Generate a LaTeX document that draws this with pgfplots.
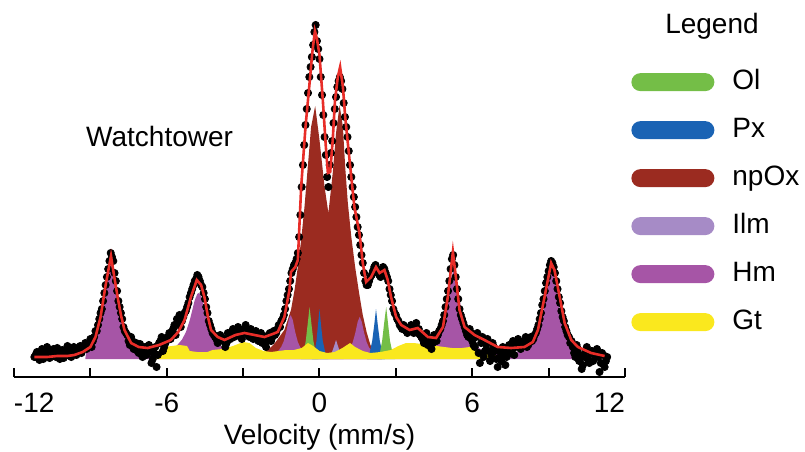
\documentclass[border=0pt]{standalone}
\usepackage{fontspec}
\setmainfont{Liberation Sans}
\usepackage{pgfplots}
\pgfplotsset{compat=1.18}
\definecolor{olc}{RGB}{116,190,71}
\definecolor{pxc}{RGB}{26,99,180}
\definecolor{npc}{RGB}{155,43,32}
\definecolor{ilc}{RGB}{166,139,198}
\definecolor{hmc}{RGB}{166,85,166}
\definecolor{gtc}{RGB}{250,232,30}
\definecolor{fitc}{RGB}{232,45,40}
\newcommand{\fs}{\fontsize{14}{16.8}\selectfont}
\pgfplotsset{swatch/.style={legend image code/.code={\fill[##1,draw=none,rounded corners=4.5pt] (0pt,-4.5pt) rectangle (41.5pt,4.5pt);}}}
\begin{document}
\begin{tikzpicture}
\begin{axis}[name=ax, x=12.729pt, y=0.5pt, xmin=-12, xmax=12, ymin=0, ymax=367,
  axis x line*=bottom, axis y line=none, clip=false, clip marker paths=true,
  x axis line style={-, line width=1pt},
  xtick={-12,-6,0,6,12},
  xticklabels={{\makebox[0pt][l]{-12}},{-6},{0},{6},{\makebox[0pt][r]{12}}},
  minor xtick={-9,-3,3,9},
  xtick align=inside, major tick length=4.5pt, minor tick length=4.5pt,
  tick style={black, line width=1pt}, minor tick style={black, line width=1pt},
  xticklabel style={font=\fs, yshift=-4.5pt},
  xlabel={Velocity (mm/s)}, xlabel style={font=\fs, yshift=1pt},
  legend cell align=left,
  legend style={draw=none, fill=none, at={(1.0098,0.84)}, anchor=north west, font=\fs,
    row sep=11pt, column sep=9pt, inner sep=0pt,
    nodes={inner sep=0pt, text height=10pt, text depth=3pt}},
]
% npOx
\addplot[fill=npc, draw=none, forget plot] coordinates {
(-2.25,18) (-2.1,26) (-1.9,30) (-1.75,34) (-1.55,41) (-1.38,47) (-1.25,57) (-1.12,67)
(-0.98,87) (-0.85,110) (-0.72,137) (-0.59,170) (-0.46,210) (-0.33,250) (-0.17,271)
(0.0,237) (0.2,190) (0.35,164) (0.52,204) (0.65,244) (0.79,272) (0.92,250) (1.01,210)
(1.11,175) (1.25,140) (1.40,110) (1.55,85) (1.7,62) (1.85,45) (2.0,32) (2.2,24) (2.45,18)
} -- cycle;
% Hm
\addplot[fill=hmc, draw=none, forget plot] coordinates {
(-9.2,18) (-9.15,28) (-9.0,31) (-8.9,34) (-8.8,39) (-8.7,45) (-8.6,55) (-8.5,68) (-8.4,86)
(-8.3,105) (-8.19,115) (-8.1,108) (-8.0,90) (-7.9,71) (-7.8,57) (-7.7,47) (-7.6,40) (-7.5,35)
(-7.3,30) (-7.0,26.5) (-6.7,25) (-6.4,24.6) (-6.1,25.6) (-5.8,28) (-5.6,31.5) (-5.4,37.5)
(-5.25,44.7) (-5.1,56.4) (-5.0,66.5) (-4.9,76.9) (-4.8,83) (-4.75,84) (-4.7,83) (-4.6,76.9)
(-4.5,66.5) (-4.4,56.4) (-4.25,44.7) (-4.1,37.5) (-3.9,31.5) (-3.7,28) (-3.4,25) (-3.0,22)
(-2.5,20.8) (-2.0,21.7) (-1.8,23.3) (-1.6,26.7) (-1.5,30.3) (-1.4,36) (-1.3,46) (-1.2,58)
(-1.13,62) (-1.05,57) (-0.95,44.5) (-0.85,35) (-0.75,29.5) (-0.6,25) (-0.4,22) (-0.1,20.6)
(0.2,20.2) (0.5,20.5) (0.8,21.6) (1.0,23.6) (1.2,28.9) (1.3,34.3) (1.4,43.4) (1.5,55.2)
(1.58,60.2) (1.66,55.2) (1.75,44.5) (1.85,35) (1.95,29.3) (2.1,24.6) (2.4,22.1) (2.8,21)
(3.2,21.4) (3.6,22.3) (4.0,24.6) (4.3,28.3) (4.5,33.4) (4.7,42.7) (4.85,55) (4.95,67.3)
(5.05,82.7) (5.15,98) (5.26,106) (5.35,100.5) (5.45,86) (5.55,70.2) (5.65,57.3) (5.8,44)
(6.0,35.2) (6.3,28.3) (6.7,24.7) (7.1,23.7) (7.5,24.1) (7.8,25.5) (8.1,28.7) (8.3,32.8)
(8.5,40.5) (8.65,50.6) (8.8,66.8) (8.9,82) (9.0,97.6) (9.12,107) (9.22,100.3) (9.32,85.1)
(9.42,69.3) (9.55,53.5) (9.7,41.8) (9.85,34.6) (9.97,30) (10.0,18)
} -- cycle;
% Ilm
\addplot[fill=ilc, draw=none, forget plot] coordinates {
(0.35,18) (0.45,22) (0.55,29) (0.65,37) (0.75,29) (0.85,22) (0.95,18)
} -- cycle;
% Px
\addplot[fill=pxc, draw=none, forget plot] coordinates {
(-0.3,18) (-0.2,24) (-0.12,36) (-0.06,52) (0.0,68) (0.06,52) (0.13,36) (0.23,24) (0.35,18)
} -- cycle;
\addplot[fill=pxc, draw=none, forget plot] coordinates {
(1.87,18) (1.97,24) (2.07,36) (2.15,52) (2.22,68) (2.29,52) (2.37,36) (2.47,24) (2.57,18)
} -- cycle;
% Ol
\addplot[fill=olc, draw=none, forget plot] coordinates {
(-0.73,18) (-0.63,24) (-0.54,36) (-0.46,54) (-0.39,70) (-0.32,54) (-0.24,36) (-0.14,24) (-0.04,18)
} -- cycle;
\addplot[fill=olc, draw=none, forget plot] coordinates {
(2.27,18) (2.37,24) (2.46,36) (2.54,54) (2.62,70) (2.69,54) (2.77,36) (2.87,24) (2.97,18)
} -- cycle;
% Gt
\addplot[fill=gtc, draw=none, forget plot] coordinates {
(-6.45,18) (-6.3,27) (-6.1,30) (-5.8,31) (-5.5,32) (-5.2,31) (-5.1,26) (-4.8,25) (-4.4,25)
(-4.2,27) (-3.8,28) (-3.4,31) (-3.0,35) (-2.75,34) (-2.5,29) (-2.2,26) (-1.9,25) (-1.6,26)
(-1.3,27) (-1.0,27) (-0.7,29) (-0.45,34) (-0.25,31) (0.0,26) (0.3,24) (0.6,25) (0.9,29)
(1.2,34) (1.4,30) (1.7,26) (2.0,24) (2.4,25) (2.8,27) (3.1,31) (3.4,34) (3.7,34) (4.0,33)
(4.3,32) (4.6,31) (4.9,30) (5.2,29) (5.6,29) (5.9,30) (6.2,28) (6.6,25) (6.9,22) (7.15,18)
} -- cycle;
% measured data
\addplot[only marks, mark=*, mark size=1.8pt, black, forget plot] coordinates {
(-11.2,20) (-11.1,25) (-11.0,17) (-10.9,28) (-10.8,22) (-10.7,30) (-10.6,19) (-10.5,26)
(-10.4,22) (-10.3,29) (-10.2,18) (-10.1,27) (-10.0,23) (-9.9,31) (-9.8,21) (-9.7,28)
(-9.6,24) (-9.5,26) (-9.4,31) (-9.3,28) (-9.2,34) (-9.1,31) (-9.0,38) (-8.9,36) (-8.8,46)
(-8.7,52) (-8.6,64) (-8.5,76) (-8.4,92) (-8.3,108) (-8.2,124) (-8.1,116) (-8.0,96) (-7.9,76)
(-7.8,64) (-7.7,50) (-7.6,44) (-7.5,36) (-7.4,40) (-7.3,28) (-7.2,34) (-7.1,24) (-7.0,30)
(-6.9,26) (-6.8,22) (-6.7,32) (-6.6,14) (-6.5,24) (-6.4,10) (-6.3,34) (-6.2,40) (-6.1,30)
(-6.0,38) (-5.9,44) (-5.8,44) (-5.7,52) (-5.6,58) (-5.5,62) (-5.4,56) (-5.3,64) (-5.2,70)
(-5.1,80) (-5.0,88) (-4.9,96) (-4.8,102) (-4.7,96) (-4.6,90) (-4.5,78) (-4.4,64) (-4.3,52)
(-4.2,44) (-4.1,40) (-4.0,34) (-3.9,42) (-3.8,36) (-3.7,30) (-3.6,44) (-3.5,38) (-3.4,48)
(-3.3,42) (-3.2,50) (-3.1,40) (-3.0,46) (-2.9,52) (-2.8,42) (-2.7,48) (-2.6,38) (-2.5,46)
(-2.4,36) (-2.3,44) (-2.2,38) (-2.1,30) (-2.0,42) (-1.9,36) (-1.8,46) (-1.7,44) (-1.6,52)
(-1.5,56) (-1.4,62) (-1.3,76) (-1.2,88) (-1.1,104) (-1.0,112) (-0.9,118) (-0.8,140)
(-0.7,190) (-0.6,232) (-0.5,268) (-0.4,300) (-0.3,320) (-0.2,345) (-0.15,352) (-0.1,336)
(0.0,318) (0.1,282) (0.2,240) (0.3,200) (0.35,190) (0.4,212) (0.5,236) (0.6,268) (0.7,290)
(0.8,300) (0.9,288) (1.0,260) (1.1,240) (1.2,212) (1.3,190) (1.4,170) (1.5,150) (1.6,132)
(1.7,114) (1.8,96) (1.9,92) (2.0,100) (2.1,106) (2.2,112) (2.3,104) (2.4,100) (2.5,110)
(2.6,104) (2.7,96) (2.8,82) (2.9,68) (3.0,62) (3.1,56) (3.2,50) (3.3,52) (3.4,46) (3.5,48)
(3.6,52) (3.7,44) (3.8,54) (3.9,48) (4.0,40) (4.1,34) (4.2,44) (4.3,38) (4.4,28) (4.5,42)
(4.6,36) (4.7,46) (4.8,52) (4.9,62) (5.0,78) (5.1,96) (5.2,118) (5.3,112) (5.4,88) (5.5,68)
(5.6,58) (5.7,50) (5.8,42) (5.9,48) (6.0,36) (6.1,30) (6.2,44) (6.3,14) (6.4,40) (6.5,26)
(6.6,38) (6.7,16) (6.8,34) (6.9,26) (7.0,10) (7.1,20) (7.2,30) (7.3,12) (7.4,28) (7.5,24)
(7.6,36) (7.7,30) (7.8,38) (7.9,28) (8.0,34) (8.1,40) (8.2,32) (8.3,40) (8.4,38) (8.5,44)
(8.6,52) (8.7,64) (8.8,78) (8.9,94) (9.0,106) (9.1,116) (9.2,110) (9.3,96) (9.4,80) (9.5,66)
(9.6,56) (9.7,46) (9.8,40) (9.9,36) (10.0,24) (10.1,32) (10.2,16) (10.3,8) (10.4,20)
(10.5,30) (10.6,14) (10.7,26) (10.8,22) (10.9,28) (11.0,5) (11.1,24) (11.2,10) (11.3,20)
};
\addplot[only marks, mark=*, mark size=1.8pt, black, forget plot] coordinates {
(-11.15,22) (-11.05,19) (-10.95,24) (-10.85,18) (-10.75,26) (-10.65,23) (-10.55,21) (-10.45,28)
(-10.35,20) (-10.25,24) (-10.15,26) (-10.05,19) (-9.95,27) (-9.85,24) (-9.75,20) (-9.65,30)
(-9.55,22) (-9.45,28) (-9.35,24) (-9.25,30) (-9.15,28) (-9.05,34) (-8.95,30) (-8.85,40)
(-8.75,46) (-8.65,58) (-8.55,68) (-8.45,84) (-8.35,100) (-8.25,116) (-8.15,120) (-8.05,104)
(-7.95,86) (-7.85,70) (-7.75,58) (-7.65,46) (-7.55,42) (-7.45,32) (-7.35,36) (-7.25,30)
(-7.15,26) (-7.05,33) (-6.95,20) (-6.85,30) (-6.75,24) (-6.65,28) (-6.55,18) (-6.45,30)
(-6.35,22) (-6.25,36) (-6.15,26) (-6.05,34) (-5.95,40) (-5.85,38) (-5.75,48) (-5.65,42)
(-5.55,54) (-5.45,50) (-5.35,60) (-5.25,66) (-5.15,74) (-5.05,84) (-4.95,92) (-4.85,98)
(-4.75,100) (-4.65,92) (-4.55,84) (-4.45,70) (-4.35,56) (-4.25,48) (-4.15,42) (-4.05,38)
(-3.95,36) (-3.85,40) (-3.75,38) (-3.65,34) (-3.55,40) (-3.45,44) (-3.35,40) (-3.25,46)
(-3.15,44) (-3.05,38) (-2.95,48) (-2.85,44) (-2.75,40) (-2.65,46) (-2.55,40) (-2.45,42)
(-2.35,38) (-2.25,34) (-2.15,40) (-2.05,36) (-1.95,44) (-1.85,40) (-1.75,42) (-1.65,48)
(-1.55,50) (-1.45,58) (-1.35,68) (-1.25,82) (-1.15,96) (-1.05,108) (-0.95,114) (-0.85,124)
(-0.75,162) (-0.65,212) (-0.55,252) (-0.45,284) (-0.35,310) (-0.25,332) (-0.05,328) (0.05,300)
(0.15,262) (0.25,222) (0.45,224) (0.55,254) (0.65,280) (0.75,296) (0.85,296) (0.95,274)
(1.05,250) (1.15,226) (1.25,200) (1.35,180) (1.45,160) (1.55,142) (1.65,122) (1.75,104)
(1.85,92) (1.95,96) (2.05,102) (2.15,110) (2.25,108) (2.35,102) (2.45,106) (2.55,108)
(2.65,100) (2.75,88) (2.85,76) (2.95,64) (3.05,58) (3.15,52) (3.25,48) (3.35,50) (3.45,44)
(3.55,50) (3.65,46) (3.75,50) (3.85,44) (3.95,42) (4.05,38) (4.15,40) (4.25,32) (4.35,36)
(4.45,34) (4.55,38) (4.65,42) (4.75,48) (4.85,56) (4.95,70) (5.05,86) (5.15,108) (5.25,122)
(5.35,100) (5.45,78) (5.55,62) (5.65,54) (5.75,46) (5.85,40) (5.95,44) (6.05,32) (6.15,40)
(6.25,24) (6.35,34) (6.45,20) (6.55,32) (6.65,26) (6.75,22) (6.85,30) (6.95,18) (7.05,26)
(7.15,16) (7.25,24) (7.35,20) (7.45,32) (7.55,26) (7.65,22) (7.75,34) (7.85,32) (7.95,30)
(8.05,36) (8.15,30) (8.25,38) (8.35,36) (8.45,42) (8.55,48) (8.65,58) (8.75,72) (8.85,86)
(8.95,100) (9.05,112) (9.15,114) (9.25,104) (9.35,88) (9.45,74) (9.55,60) (9.65,50) (9.75,42)
(9.85,34) (9.95,30) (10.05,20) (10.15,28) (10.25,22) (10.35,12) (10.45,26) (10.55,18)
(10.65,24) (10.75,16) (10.85,26) (10.95,20) (11.05,14) (11.15,22) (11.25,16)
};
% fit
\addplot[fitc, line width=1.3pt, forget plot] coordinates {
(-11.2,20) (-10.7,20) (-10.3,21) (-9.9,21) (-9.63,22) (-9.3,25) (-9.0,30) (-8.8,40) (-8.6,60)
(-8.4,92) (-8.19,121) (-8.06,100) (-7.93,80) (-7.8,62) (-7.66,47) (-7.4,34) (-7.1,30)
(-6.75,29) (-6.3,32) (-5.84,37) (-5.55,45) (-5.3,57) (-5.05,80) (-4.82,97) (-4.65,92)
(-4.52,80) (-4.38,60) (-4.26,47) (-4.0,40) (-3.73,37) (-3.3,42) (-2.95,44) (-2.55,42)
(-2.16,40) (-1.84,43) (-1.64,45) (-1.38,60) (-1.18,87) (-1.12,105) (-0.95,110) (-0.85,117)
(-0.72,190) (-0.55,250) (-0.39,294) (-0.28,325) (-0.18,346) (-0.1,338) (0.0,322) (0.13,277)
(0.25,230) (0.33,204) (0.42,205) (0.52,237) (0.61,277) (0.72,300) (0.81,310) (0.92,290)
(1.01,260) (1.18,217) (1.37,170) (1.57,144) (1.70,114) (1.83,95) (2.03,100) (2.22,110)
(2.36,104) (2.55,107) (2.68,97) (2.81,80) (3.01,60) (3.21,52) (3.54,47) (3.86,49) (4.26,40)
(4.58,39) (4.85,50) (5.04,80) (5.24,125) (5.37,97) (5.5,67) (5.70,50) (6.09,42) (6.48,37)
(7.0,30) (7.53,29) (8.05,30) (8.38,35) (8.58,47) (8.84,80) (9.10,114) (9.23,107) (9.36,90)
(9.63,54) (9.89,37) (10.15,30) (10.67,24) (11.2,21)
};
\addlegendimage{swatch, fill=olc}\addlegendentry{Ol}
\addlegendimage{swatch, fill=pxc}\addlegendentry{Px}
\addlegendimage{swatch, fill=npc}\addlegendentry{npOx}
\addlegendimage{swatch, fill=ilc}\addlegendentry{Ilm}
\addlegendimage{swatch, fill=hmc}\addlegendentry{Hm}
\addlegendimage{swatch, fill=gtc}\addlegendentry{Gt}
\node[anchor=base west, inner sep=0pt, font=\fs] at (axis cs:-9.18,231) {Watchtower};
\node[anchor=base, font=\fs] at (axis description cs:1.1424,0.937) {Legend};
\end{axis}
\pgfresetboundingbox
\path[use as bounding box] ([shift={(-7pt,-37pt)}]ax.south west) rectangle ([shift={(395.5pt,188.5pt)}]ax.south west);
\end{tikzpicture}
\end{document}
